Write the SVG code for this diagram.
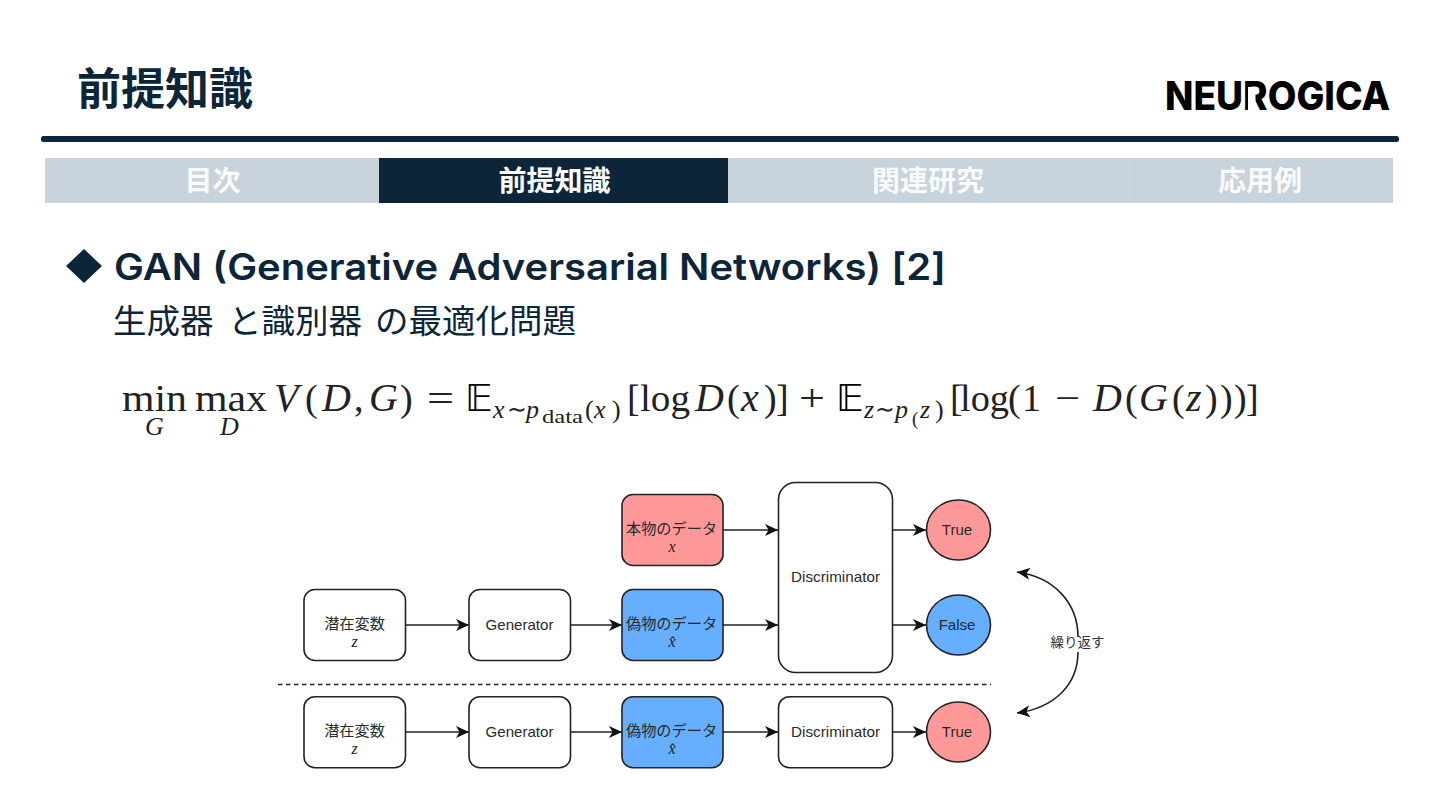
<svg xmlns="http://www.w3.org/2000/svg" width="1440" height="810" viewBox="0 0 1440 810">
<style>
.cjk{font-family:"Noto Sans CJK JP","Noto Sans",sans-serif}
.tab{font-family:"Noto Sans CJK JP",sans-serif;font-weight:700;font-size:28px;fill:#fff;text-anchor:middle}
.box{stroke:#222;stroke-width:1.6}
.w{fill:#fff}.r{fill:#ff9999}.b{fill:#66aeff}
.lbl{font-family:"Liberation Sans",Arial,sans-serif;font-size:15px;fill:#2a2a2a;text-anchor:middle}
.jl{font-family:"Noto Sans CJK JP",sans-serif;font-size:15.200px;fill:#2a2a2a;text-anchor:middle}
.mv{font-family:"Liberation Serif",serif;font-style:italic;font-size:16px;fill:#222;text-anchor:middle}
.con{fill:none;stroke:#222;stroke-width:1.6;marker-end:url(#ah)}
.m{font-family:"Liberation Serif",serif;font-size:38px;fill:#222}
.i{font-style:italic;font-size:40px}
.s{font-size:26px}
.t{font-size:19px}
.bb{font-family:"DejaVu Sans",sans-serif;font-size:38px}
</style>
<defs>
<marker id="ah" markerUnits="userSpaceOnUse" markerWidth="15" markerHeight="13" refX="13" refY="6" orient="auto"><path d="M0,0 L13,6 L0,12 L3.500,6 Z" fill="#111"/></marker>
</defs>
<rect width="1440" height="810" fill="#fff"/>
<g id="header">
<text x="77" y="105" class="cjk" font-size="44" font-weight="700" fill="#0d2539">前提知識</text>
<text x="1165" y="110" font-family="Inter,'Liberation Sans',sans-serif" font-weight="800" font-size="39" fill="#000" textLength="225" lengthAdjust="spacingAndGlyphs">NEUROGICA</text>
<rect x="1248" y="87" width="7.500" height="25" fill="#fff"/>
<rect x="41" y="136" width="1358" height="6" rx="2.500" fill="#0d2539"/>
</g>
<g id="tabs">
<rect x="45" y="158" width="1348" height="45" fill="#c9d3dc"/>
<rect x="379" y="158" width="349" height="45" fill="#0d2539"/>
<rect x="1128" y="158" width="1" height="45" fill="#cfd8e0"/>
<text x="212.500" y="190.500" class="tab" opacity=".9">目次</text>
<text x="554.500" y="190.500" class="tab">前提知識</text>
<text x="928" y="190.500" class="tab" opacity=".9">関連研究</text>
<text x="1260" y="190.500" class="tab" opacity=".9">応用例</text>
</g>
<g id="heading">
<path d="M84,249 L102,266 L84,283 L66,266 Z" fill="#0d2539"/>
<text x="114" y="280" font-family="Inter,'Noto Sans',sans-serif" font-weight="600" font-size="37" fill="#0d2539" textLength="832" lengthAdjust="spacingAndGlyphs">GAN (Generative Adversarial Networks) [2]</text>
<text y="333" class="cjk" font-size="33.500" fill="#0d2539"><tspan x="113">生成器</tspan><tspan x="228">と識別器</tspan><tspan x="375">の最適化問題</tspan></text>
</g>
<g id="formula">
<text class="m" y="411" x="122" textLength="65" lengthAdjust="spacingAndGlyphs">min</text>
<text class="m" y="411" x="195" textLength="72" lengthAdjust="spacingAndGlyphs">max</text>
<text class="m i s" y="435" x="145">G</text>
<text class="m i s" y="435" x="220">D</text>
<text class="m i" y="411" x="274">V</text>
<text class="m" y="411" x="305">(</text>
<text class="m i" y="411" x="322">D</text>
<text class="m" y="411" x="354">,</text>
<text class="m i" y="411" x="369">G</text>
<text class="m" y="411" x="400">)</text>
<text class="m" y="411" x="427" textLength="27" lengthAdjust="spacingAndGlyphs">=</text>
<text class="bb" y="411" x="465">𝔼</text>
<text class="m i s" y="418" x="493">x</text>
<text class="m s" y="418" x="507" textLength="20" lengthAdjust="spacingAndGlyphs">∼</text>
<text class="m i s" y="418" x="526">p</text>
<text class="m t" y="423" x="542" textLength="41" lengthAdjust="spacingAndGlyphs">data</text>
<text class="m s" y="418" x="585">(</text>
<text class="m i s" y="418" x="594">x</text>
<text class="m s" y="418" x="612">)</text>
<text class="m" y="411" x="627">[</text>
<text class="m" y="411" x="640" textLength="50" lengthAdjust="spacingAndGlyphs">log</text>
<text class="m i" y="411" x="695">D</text>
<text class="m" y="411" x="727">(</text>
<text class="m i" y="411" x="741">x</text>
<text class="m" y="411" x="764">)</text>
<text class="m" y="411" x="776">]</text>
<text class="m" y="411" x="799" textLength="26" lengthAdjust="spacingAndGlyphs">+</text>
<text class="bb" y="411" x="836">𝔼</text>
<text class="m i s" y="418" x="864">z</text>
<text class="m s" y="418" x="875" textLength="20" lengthAdjust="spacingAndGlyphs">∼</text>
<text class="m i s" y="418" x="895">p</text>
<text class="m t" y="425" x="912">(</text>
<text class="m i s" y="418" x="920">z</text>
<text class="m s" y="418" x="935">)</text>
<text class="m" y="411" x="950">[</text>
<text class="m" y="411" x="960" textLength="49" lengthAdjust="spacingAndGlyphs">log</text>
<text class="m" y="411" x="1008">(</text>
<text class="m" y="411" x="1022">1</text>
<text class="m" y="411" x="1055" textLength="25" lengthAdjust="spacingAndGlyphs">−</text>
<text class="m i" y="411" x="1093">D</text>
<text class="m" y="411" x="1125">(</text>
<text class="m i" y="411" x="1139">G</text>
<text class="m" y="411" x="1172">(</text>
<text class="m i" y="411" x="1186">z</text>
<text class="m" y="411" x="1205">)</text>
<text class="m" y="411" x="1220">)</text>
<text class="m" y="411" x="1234">)</text>
<text class="m" y="411" x="1246">]</text>
</g>
<g id="connectors">
<path class="con" d="M406,625H469"/>
<path class="con" d="M571,625H622"/>
<path class="con" d="M723,530H778"/>
<path class="con" d="M723,625H778"/>
<path class="con" d="M893,530H926"/>
<path class="con" d="M893,625H926"/>
<path class="con" d="M406,732H469"/>
<path class="con" d="M571,732H622"/>
<path class="con" d="M723,732H778"/>
<path class="con" d="M893,732H926"/>
<path class="con" d="M1078,637C1078,603 1054,577 1017,572"/>
<path class="con" d="M1078,652C1078,685 1054,708 1017,713"/>
<path d="M278,684.500H991" fill="none" stroke="#222" stroke-width="1.400" stroke-dasharray="4.500 3.500"/>
</g>
<g id="real"><rect class="box r" x="622" y="494.500" width="101" height="71" rx="11"/><text class="jl" x="671.500" y="534">本物のデータ</text><text class="mv" x="672" y="552">x</text></g>
<g id="latent1"><rect class="box w" x="304" y="589.500" width="101.500" height="71" rx="11"/><text class="jl" x="354.500" y="629">潜在変数</text><text class="mv" x="354.500" y="647">z</text></g>
<g id="gen1"><rect class="box w" x="469" y="589.500" width="101.500" height="71" rx="11"/><text class="lbl" x="519.500" y="629.500" textLength="68" lengthAdjust="spacingAndGlyphs">Generator</text></g>
<g id="fake1"><rect class="box b" x="622" y="589.500" width="101" height="71" rx="11"/><text class="jl" x="671.500" y="629">偽物のデータ</text><text class="mv" x="672" y="647">x̂</text></g>
<g id="disc1"><rect class="box w" x="778.500" y="482.500" width="114" height="190" rx="17"/><text class="lbl" x="835.500" y="581.500" textLength="89" lengthAdjust="spacingAndGlyphs">Discriminator</text></g>
<g id="true1"><ellipse class="box r" cx="958.500" cy="530" rx="32" ry="30"/><text class="lbl" x="957" y="534.500">True</text></g>
<g id="false1"><ellipse class="box b" cx="958.500" cy="625" rx="32" ry="30"/><text class="lbl" x="957" y="629.500">False</text></g>
<g id="latent2"><rect class="box w" x="304" y="696.700" width="101.500" height="71" rx="11"/><text class="jl" x="354.500" y="736">潜在変数</text><text class="mv" x="354.500" y="754">z</text></g>
<g id="gen2"><rect class="box w" x="469" y="696.700" width="101.500" height="71" rx="11"/><text class="lbl" x="519.500" y="736.500" textLength="68" lengthAdjust="spacingAndGlyphs">Generator</text></g>
<g id="fake2"><rect class="box b" x="622" y="696.700" width="101" height="71" rx="11"/><text class="jl" x="671.500" y="736">偽物のデータ</text><text class="mv" x="672" y="754">x̂</text></g>
<g id="disc2"><rect class="box w" x="778.500" y="696.700" width="114" height="71" rx="11"/><text class="lbl" x="835.500" y="736.500" textLength="89" lengthAdjust="spacingAndGlyphs">Discriminator</text></g>
<g id="true2"><ellipse class="box r" cx="958.500" cy="732" rx="32" ry="30"/><text class="lbl" x="957" y="736.500">True</text></g>
<text id="repeat" x="1077.500" y="647" font-family="'Noto Sans CJK JP',sans-serif" font-size="13.500" fill="#333" text-anchor="middle">繰り返す</text>
</svg>
